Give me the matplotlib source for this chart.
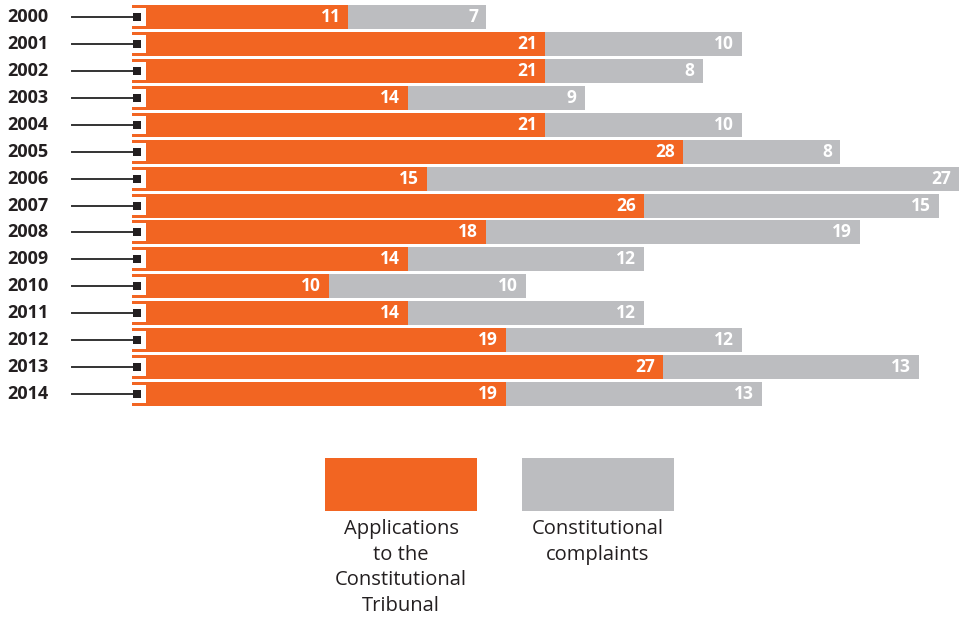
import numpy as np
import matplotlib.pyplot as plt
from matplotlib.patches import Rectangle

years = ["2000", "2001", "2002", "2003", "2004", "2005", "2006", "2007",
         "2008", "2009", "2010", "2011", "2012", "2013", "2014"]
tribunal = [11, 21, 21, 14, 21, 28, 15, 26, 18, 14, 10, 14, 19, 27, 19]
complaints = [7, 10, 8, 9, 10, 8, 27, 15, 19, 12, 10, 12, 12, 13, 13]
legend_labels = ["Applications\nto the\nConstitutional\nTribunal",
                 "Constitutional\ncomplaints"]

ORANGE = "#F26522"
GREY = "#BCBDC0"
DARK = "#231F20"

plt.rcParams['font.family'] = ['Open Sans', 'DejaVu Sans']

W, H = 963, 622
fig = plt.figure(figsize=(W / 100, H / 100), dpi=100)
ax = fig.add_axes([0, 0, 1, 1])

# pixel mapping: x_px = 132 + 19.68*v ; y_px = 17 + 26.93*i
sx, x0 = 19.68, 132
sy, y0 = 26.93, 17
ax.set_xlim(-x0 / sx, (W - x0) / sx)
ax.set_ylim((H - y0) / sy, -y0 / sy)
ax.axis("off")

y = np.arange(len(years))
t = np.array(tribunal)
c = np.array(complaints)
h = 24 / sy
ax.barh(y, t, height=h, color=ORANGE, linewidth=0)
ax.barh(y, c, left=t, height=h, color=GREY, linewidth=0)

# white notch + black marker + leader line
ax.barh(y, 14 / sx, height=18 / sy, color="white", linewidth=0)
for yi in y:
    ax.plot([(72 - x0) / sx, (134 - x0) / sx], [yi, yi], color="#333333", lw=1.4)
ax.plot(np.full(len(y), 5 / sx), y, 's', color=DARK, ms=6, mew=0)

pad = 8 / sx
for yi, a, b, yr in zip(y, t, c, years):
    ax.text(a - pad, yi, str(a), ha="right", va="center", color="white",
            fontsize=12.5, fontweight="bold")
    ax.text(a + b - pad, yi, str(b), ha="right", va="center", color="white",
            fontsize=12.5, fontweight="bold")
    ax.text((7 - x0) / sx, yi, yr, ha="left", va="center", color=DARK,
            fontsize=13, fontweight="bold")

# legend
for i, (col, lab) in enumerate(zip([ORANGE, GREY], legend_labels)):
    left = 325 + i * 197
    fig.patches.append(Rectangle((left / W, 1 - 511 / H), 152 / W, 53 / H,
                                 transform=fig.transFigure, color=col, lw=0))
    fig.text((left + 76) / W, 1 - 519 / H, lab, ha="center", va="top",
             fontsize=14.5, color=DARK, linespacing=1.38)

fig.savefig("out.png", dpi=100)
